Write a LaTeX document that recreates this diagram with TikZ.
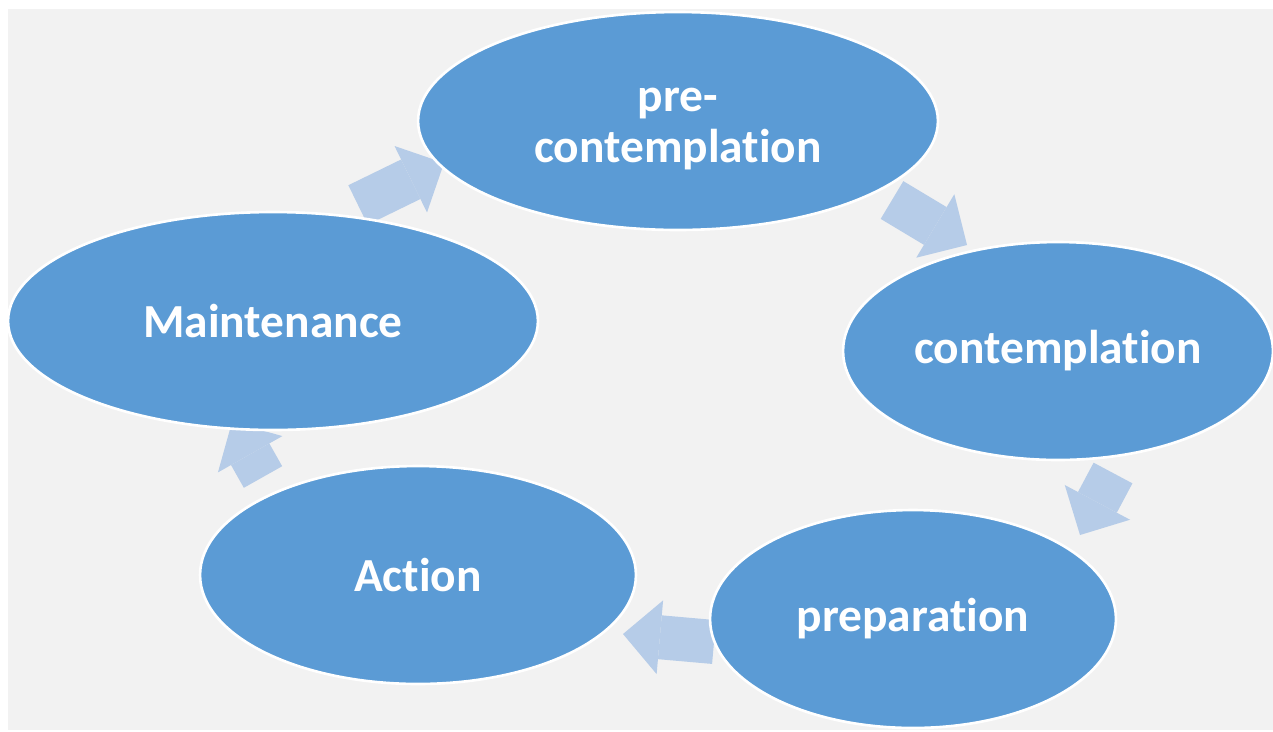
\documentclass[tikz,border=0pt]{standalone}
\usepackage{fontspec}
\setsansfont{Carlito}[Ligatures=NoCommon]
\usetikzlibrary{shapes,arrows.meta,backgrounds}
\definecolor{stageblue}{HTML}{5B9BD5}
\definecolor{arrowblue}{HTML}{B6CCE8}
\definecolor{panel}{HTML}{F2F2F2}

\begin{document}
\begin{tikzpicture}[x=0.02cm,y=-0.02cm,
stage/.style={ellipse, draw=white, line width=1.5pt, fill=stageblue, text=white, align=center, inner sep=0pt, minimum height=4.36cm, font=\fontsize{27}{29.5}\selectfont\sffamily\bfseries},
cyc/.style={arrowblue, line width=0.88cm, -{Triangle[width=1.48cm,length=0.74cm,line width=0pt]}}]

\useasboundingbox (0,0) rectangle (1273,731);

\draw (678,121) node[stage, minimum width=10.4cm, text height=52pt] (Pre) {pre-\\contemplation};
\draw (1058,351) node[stage, minimum width=8.6cm] (Cont) {contemplation};
\draw (913,619) node[stage, minimum width=8.12cm] (Prep) {preparation};
\draw (418,575) node[stage, minimum width=8.72cm] (Act) {Action};
\draw (273,321) node[stage, minimum width=10.6cm] (Maint) {Maintenance};

\begin{scope}[on background layer]
\fill[panel] (8,9) rectangle (1273,730);

% arrows sit behind the ellipses
\coordinate (m1) at (358,205);  \coordinate (m2) at (444,163);
\coordinate (c1) at (892,200);  \coordinate (c2) at (967,245);
\coordinate (p1) at (1113,473); \coordinate (p2) at (1080,535);
\coordinate (r1) at (714,642);  \coordinate (r2) at (623,634);
\coordinate (a1) at (263,477);  \coordinate (a2) at (232,422);

\draw[cyc] (m1)--(m2);
\draw[cyc] (c1)--(c2);
\draw[cyc] (p1)--(p2);
\draw[cyc] (r1)--(r2);
\draw[cyc] (a1)--(a2);
\end{scope}

\end{tikzpicture}
\end{document}
